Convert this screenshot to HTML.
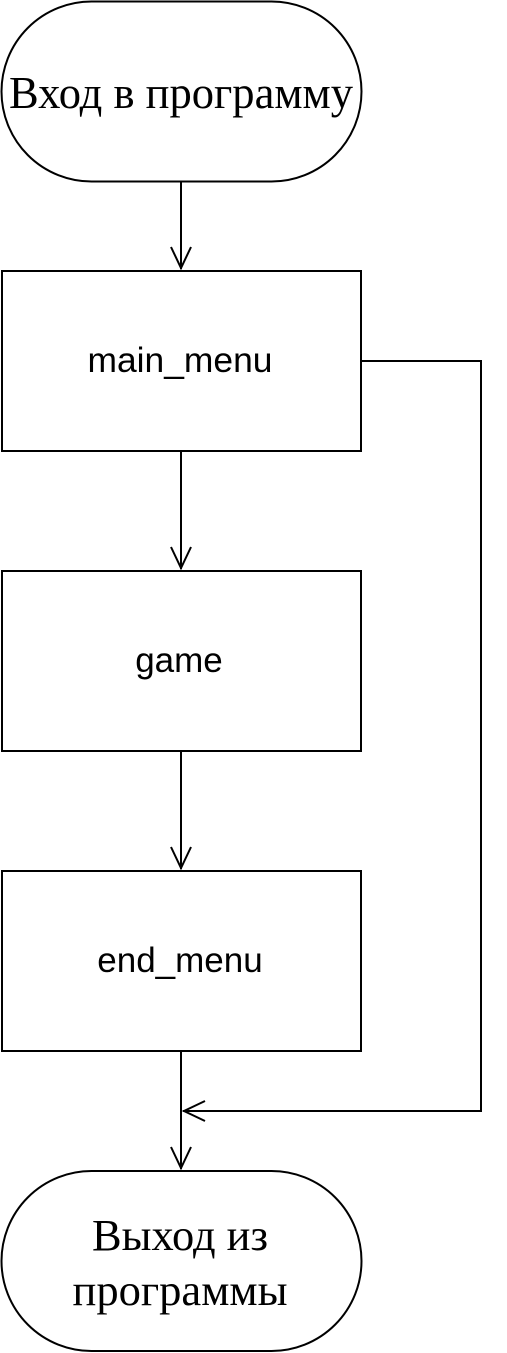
<!DOCTYPE html>
<html><head><meta charset="utf-8"><style>html,body{margin:0;padding:0;background:#fff}svg{display:block}</style></head>
<body>
<svg width="507" height="1353" viewBox="0 0 507 1353" xmlns="http://www.w3.org/2000/svg">
<g fill="none" stroke="#000" stroke-width="2">
<rect x="1.5" y="1.5" width="360" height="180" rx="90" ry="90" fill="#fff"/>
<rect x="2" y="271" width="359" height="180" fill="#fff"/>
<rect x="2" y="571" width="359" height="180" fill="#fff"/>
<rect x="2" y="871" width="359" height="180" fill="#fff"/>
<rect x="1.5" y="1171" width="360" height="180" rx="90" ry="90" fill="#fff"/>
<path d="M181 181V269M171 247L181 268L191 247"/>
<path d="M181 451V569M171 547L181 568L191 547"/>
<path d="M181 751V869M171 847L181 868L191 847"/>
<path d="M181 1051V1169M171 1147L181 1168L191 1147"/>
<path d="M361 361H481V1111H183M205 1101L184 1111L205 1121"/>
</g>
<g font-family="Liberation Serif, serif" font-size="44" fill="#000" text-anchor="middle">
<text x="181" y="108" font-size="45" textLength="344" lengthAdjust="spacingAndGlyphs">Вход в программу</text>
<text x="180" y="1250" textLength="176" lengthAdjust="spacingAndGlyphs">Выход из</text>
<text x="180" y="1305" textLength="215" lengthAdjust="spacingAndGlyphs">программы</text>
</g>
<g font-family="Liberation Sans, Arial, sans-serif" font-size="35" fill="#000" text-anchor="middle">
<text x="180" y="372" textLength="185" lengthAdjust="spacingAndGlyphs">main_menu</text>
<text x="179" y="672">game</text>
<text x="180" y="972">end_menu</text>
</g>
</svg>
</body></html>
